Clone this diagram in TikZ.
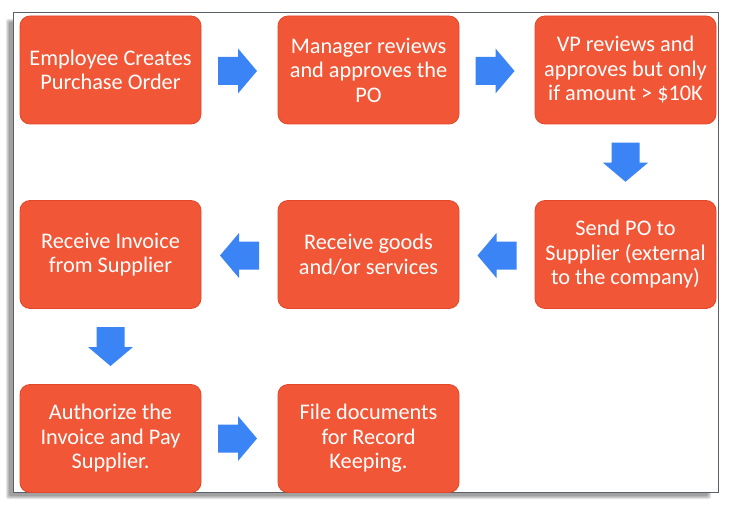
\documentclass[tikz,border=0pt]{standalone}
\usepackage{fontspec}
\setmainfont{Carlito}
\usetikzlibrary{calc}
\definecolor{boxfill}{RGB}{241,87,55}
\definecolor{boxline}{RGB}{226,72,40}
\definecolor{arrowfill}{RGB}{59,132,246}
\definecolor{framecol}{RGB}{90,96,104}
\tikzset{
  stepbox/.style={rounded corners=10pt, fill=boxfill, draw=boxline, line width=0.8pt,
    minimum width=181pt, minimum height=108pt, text=white, align=center,
    font=\fontsize{22.3}{24.5}\selectfont, inner sep=0pt},
  blockarrow/.pic={\fill[arrowfill] (-19.5,-14) -- (0.5,-14) -- (0.5,-22.5) -- (19.5,0) -- (0.5,22.5) -- (0.5,14) -- (-19.5,14) -- cycle;}
}
\begin{document}
\begin{tikzpicture}[x=1pt,y=-1pt]
\useasboundingbox (0,0) rectangle (734,508);
\fill[white] (0,0) rectangle (734,508);
% frame shadow
\foreach \d/\o in {0/0.10,1/0.10,2/0.10,3/0.12}{
  \fill[black,opacity=\o,rounded corners=2pt] (13-7+\d,13+6+\d) rectangle (718-7-\d,492+7-\d);
}
\fill[white] (13,13) rectangle (718,492);
\draw[framecol, line width=1pt] (13,13) rectangle (718,492);
% boxes
\node[stepbox] (b1) at (110.5,70) {Employee Creates\\Purchase Order};
\node[stepbox] (b2) at (368.5,70) {Manager reviews\\and approves the\\PO};
\node[stepbox] (b3) at (625.5,70) {VP reviews and\\approves but only\\if amount > \$10K};
\node[stepbox] (b4) at (625.5,254.5) {Send PO to\\Supplier (external\\to the company)};
\node[stepbox] (b5) at (368.5,254.5) {Receive goods\\and/or services};
\node[stepbox] (b6) at (110.5,254.5) {Receive Invoice\\from Supplier};
\node[stepbox] (b7) at (110.5,438.5) {Authorize the\\Invoice and Pay\\Supplier.};
\node[stepbox] (b8) at (368.5,438.5) {File documents\\for Record\\Keeping.};
% arrows
\pic at ($(b1.east)!0.5!(b2.west)+(-2,1)$) {blockarrow};
\pic at ($(b2.east)!0.5!(b3.west)+(-2,1)$) {blockarrow};
\pic[rotate=-90] at ($(b3.south)!0.5!(b4.north)$) {blockarrow};
\pic[rotate=180] at ($(b4.west)!0.5!(b5.east)+(0,1)$) {blockarrow};
\pic[rotate=180] at ($(b5.west)!0.5!(b6.east)+(0,1)$) {blockarrow};
\pic[rotate=-90] at ($(b6.south)!0.5!(b7.north)$) {blockarrow};
\pic at ($(b7.east)!0.5!(b8.west)+(-2,0)$) {blockarrow};
\end{tikzpicture}
\end{document}
